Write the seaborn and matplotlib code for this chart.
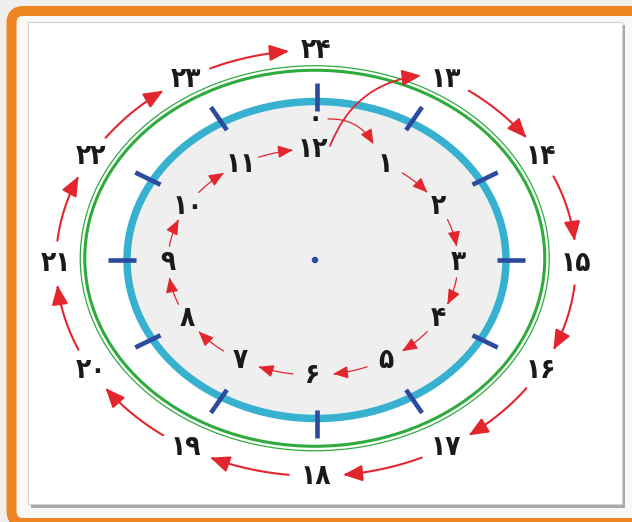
import numpy as np
import pandas as pd
import matplotlib
matplotlib.use("Agg")
import matplotlib.pyplot as plt
import seaborn as sns
from matplotlib.patches import Ellipse, FancyBboxPatch, Rectangle, FancyArrowPatch, ArrowStyle
from matplotlib.path import Path

# ---- data ----
inner_hours = [1, 2, 3, 4, 5, 6, 7, 8, 9, 10, 11, 12]
outer_hours = [13, 14, 15, 16, 17, 18, 19, 20, 21, 22, 23, 24]
midnight_hour = [0]
tick_positions = [0, 1, 2, 3, 4, 5, 6, 7, 8, 9, 10, 11]

PERSIAN = str.maketrans("0123456789", "۰۱۲۳۴۵۶۷۸۹")


def fa(n):
    return str(n).translate(PERSIAN)


sns.set_theme(style="white")
plt.rcParams['font.family'] = ['DejaVu Sans']

fig = plt.figure(figsize=(6.32, 5.22), dpi=100)
fig.patch.set_facecolor("#f0efed")
ax = fig.add_axes([0, 0, 1, 1])
ax.axis("off")

RED = "#e3262d"
BLUE_RING = "#38b0cf"
TICK = "#2c4a9e"
GREEN = "#2fab3e"
TXT = "#1a1a1a"

# frame + panel
ax.add_patch(FancyBboxPatch((11.5, 11), 700, 512, boxstyle="round,pad=0,rounding_size=12",
                            facecolor="#f9f8f6", edgecolor="#ee8522", lw=7.2, zorder=0))
ax.add_patch(Rectangle((31, 25), 594, 483, facecolor="#a9a9a9", edgecolor="none", zorder=1))
ax.add_patch(Rectangle((28, 22), 594, 482, facecolor="white", edgecolor="#d2d2d2", lw=0.8, zorder=2))


def hour_angle(h):
    return np.deg2rad(90 - 30 * (h % 12))


# clock face
bcx, bcy, ba, bb = 316.5, 260.0, 189.5, 158.5
ax.add_patch(Ellipse((bcx, bcy), 2 * ba, 2 * bb, facecolor="#efefef", edgecolor=BLUE_RING, lw=5.4, zorder=3))
gcx, gcy = 314.75, 258.25
ax.add_patch(Ellipse((gcx, gcy), 460, 376, facecolor="none", edgecolor=GREEN, lw=2.2, zorder=3))
ax.add_patch(Ellipse((gcx, gcy), 469, 385, facecolor="none", edgecolor=GREEN, lw=0.9, zorder=3))

# ticks
for h in tick_positions:
    t = hour_angle(h)
    px, py = bcx + ba * np.cos(t), bcy - bb * np.sin(t)
    u = np.array([px - bcx, py - bcy])
    u = u / np.linalg.norm(u)
    p0 = np.array([px, py]) + u * (5 - 14)
    p1 = np.array([px, py]) + u * (5 + 14)
    ax.plot([p0[0], p1[0]], [p0[1], p1[1]], color=TICK, lw=3.3, solid_capstyle="butt", zorder=4)

# centre dot
sns.scatterplot(x=[bcx - 1.5], y=[bcy], s=22, color=TICK, edgecolor="none", ax=ax, zorder=5)

# label ellipses
icx, icy, ia, ib = 313.0, 262.0, 145.0, 113.0
ocx, ocy, oa, ob = 316.0, 263.0, 260.0, 213.0


def pos(h, cx, cy, a, b):
    t = hour_angle(h)
    return cx + a * np.cos(t), cy - b * np.sin(t)


def arc_arrow(h1, h2, cx, cy, a, b, gap1, gap2, lw, ms):
    t1 = hour_angle(h1) if h1 % 12 else np.deg2rad(90)
    t2 = hour_angle(h2)
    if t2 > t1:
        t2 -= 2 * np.pi
    ts = np.linspace(t1 - np.deg2rad(gap1), t2 + np.deg2rad(gap2), 40)
    verts = np.column_stack([cx + a * np.cos(ts), cy - b * np.sin(ts)])
    arr = FancyArrowPatch(path=Path(verts), arrowstyle=ArrowStyle("-|>", head_length=0.9, head_width=0.38),
                          mutation_scale=ms, lw=lw, color=RED, zorder=6)
    ax.add_patch(arr)


fs = 20
tkw = dict(ha="center", va="center", fontsize=fs, fontweight="bold", fontstretch="condensed",
           color=TXT, zorder=7)
for h in inner_hours:
    x, y = pos(h, icx, icy, ia, ib)
    ax.text(x, y, fa(h), **tkw)
for h in outer_hours:
    x, y = pos(h, ocx, ocy, oa, ob)
    ax.text(x, y, fa(h), **tkw)
for h in midnight_hour:
    x, y = pos(h, icx, icy, ia, ib)
    zx, zy = x + 2, y - 31
    ax.text(zx, zy, fa(h), **tkw)

# inner arrows
for h in inner_hours[:-1]:
    arc_arrow(h, h + 1, icx, icy, ia, ib, 8, 8, 0.9, 10)
# outer arrows
for h in outer_hours[:-1]:
    arc_arrow(h, h + 1, ocx, ocy, oa, ob, 6, 6, 1.5, 13)

# midnight -> 1
x1, y1 = pos(1, icx, icy, ia, ib)
ax.add_patch(FancyArrowPatch((zx + 13, zy + 1), (x1 - 12, y1 - 20), connectionstyle="arc3,rad=-0.3",
                             arrowstyle=ArrowStyle("-|>", head_length=0.9, head_width=0.38),
                             mutation_scale=10, lw=0.9, color=RED, shrinkA=0, shrinkB=0, zorder=6))
# 12 -> 13
x12, y12 = pos(12, icx, icy, ia, ib)
x13, y13 = pos(13, ocx, ocy, oa, ob)
ax.add_patch(FancyArrowPatch((x12 + 17, y12 - 3), (x13 - 25, y13 - 3), connectionstyle="arc3,rad=-0.3",
                             arrowstyle=ArrowStyle("-|>", head_length=0.9, head_width=0.38),
                             mutation_scale=13, lw=1.3, color=RED, shrinkA=0, shrinkB=0, zorder=6))

ax.set_xlim(0, 632)
ax.set_ylim(522, 0)
fig.savefig("out.png", dpi=100, facecolor=fig.get_facecolor())
